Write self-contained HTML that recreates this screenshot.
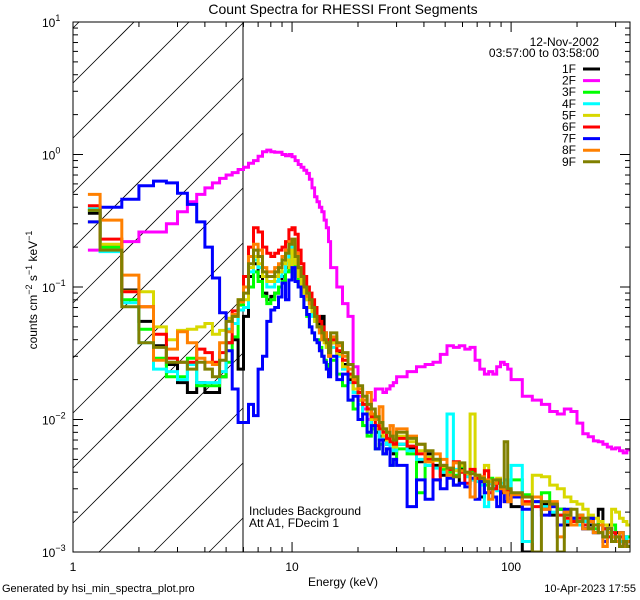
<!DOCTYPE html>
<html><head><meta charset="utf-8">
<style>
html,body{margin:0;padding:0;background:#fff;overflow:hidden;width:640px;height:600px;}
svg{display:block;font-family:"Liberation Sans",sans-serif;}
</style></head>
<body>
<svg id="chart" width="640" height="600" viewBox="0 0 640 600" xmlns="http://www.w3.org/2000/svg">
<defs><clipPath id="plotclip"><rect x="73" y="22" width="557" height="530"/></clipPath></defs>
<rect width="640" height="600" fill="#fff"/>
<g id="hatch"></g>
<line x1="243" y1="22" x2="243" y2="552" stroke="#000" stroke-width="1"/>
<g id="series" clip-path="url(#plotclip)"></g>
<rect x="73" y="22" width="557" height="530" fill="none" stroke="#000" stroke-width="1"/>
<g id="axes"></g>
<text x="343" y="14" text-anchor="middle" font-size="14">Count Spectra for RHESSI Front Segments</text>
<text x="343" y="586" text-anchor="middle" font-size="12">Energy (keV)</text>
<text transform="translate(37,290) rotate(-90)" text-anchor="middle" font-size="12">counts cm<tspan dy="-5" font-size="9">−2</tspan><tspan dy="5"> s</tspan><tspan dy="-5" font-size="9">−1</tspan><tspan dy="5"> keV</tspan><tspan dy="-5" font-size="9">−1</tspan></text>
<text x="249" y="515" font-size="12">Includes Background</text>
<text x="249" y="527" font-size="12">Att A1, FDecim 1</text>
<text x="2" y="592" font-size="11">Generated by hsi_min_spectra_plot.pro</text>
<text x="636" y="592" text-anchor="end" font-size="11">10-Apr-2023 17:55</text>
<text x="599" y="46" text-anchor="end" font-size="12">12-Nov-2002</text>
<text x="599" y="57" text-anchor="end" font-size="12">03:57:00 to 03:58:00</text>
<g id="legend"></g>
</svg>
<script>
const edges = [1.17,1.33,1.67,2,2.33,2.67,3,3.33,3.67,4,4.33,4.67,5,5.33,5.67,6,
6.33,6.67,7,7.33,7.67,8,8.33,8.67,9,9.33,9.67,10,10.33,10.67,11,11.33,11.67,12,12.33,12.67,13,13.33,13.67,14,14.33,14.67,15,
16,17,18,19,20,21,22,23,24,25,26,27,28,29,30,
33.5,37,40.5,44,47.5,51,54.5,58,61.5,65,68.5,72,75.5,79,82.5,86,89.5,93,96.5,100,
112.5,125,137.5,150,162.5,175,187.5,200,212.5,225,237.5,250,262.5,275,287.5,300,312.5,325,337.5,350];

const seriesNames = ["1F","2F","3F","4F","5F","6F","7F","8F","9F"];
const seriesColors = ["#000000","#ff00ff","#00ff00","#00ffff","#d8d800","#ff0000","#0000ff","#ff8000","#808000"];

const s1F = [0.36,0.2,0.095,0.055,0.036,0.026,0.019,0.016,0.019,0.016,0.016,0.021,0.038,0.04,0.024,
0.06,0.12,0.15,0.12,0.09,0.08,0.085,0.09,0.10,0.12,0.14,0.18,0.20,0.15,0.12,0.11,0.10,0.09,0.08,0.07,0.06,0.055,0.05,0.06,0.045,0.04,0.035,
0.038,0.032,0.026,0.02,0.017,0.014,0.012,0.011,0.009,0.008,0.0075,0.007,0.0065,0.006,0.0055,
0.0065,0.006,0.0048,0.0055,0.0045,0.0038,0.0041,0.0032,0.0042,0.0039,0.0035,0.0036,0.0026,0.0034,0.0033,0.003,0.0034,0.0028,0.003,0.0027,
0.0022,0.001,0.0026,0.0023,0.0019,0.0021,0.0016,0.0018,0.0019,0.0015,0.0016,0.0014,0.0021,0.0013,0.0016,0.0012,0.0014,0.0011,0.0013,0.0012];
const s2F = [0.19,0.20,0.22,0.26,0.26,0.30,0.37,0.44,0.5,0.56,0.61,0.66,0.70,0.73,0.77,
0.8,0.86,0.9,0.97,1.05,1.08,1.05,1.04,1.04,1.0,0.98,1.0,0.96,0.9,0.84,0.8,0.76,0.72,0.65,0.56,0.48,0.44,0.40,0.37,0.32,0.28,0.22,
0.14,0.1,0.075,0.06,0.025,0.015,0.012,0.01,0.014,0.017,0.017,0.016,0.017,0.018,0.019,
0.021,0.023,0.025,0.026,0.027,0.031,0.036,0.035,0.036,0.034,0.035,0.028,0.024,0.022,0.023,0.022,0.025,0.027,0.026,0.024,
0.02,0.015,0.014,0.013,0.0115,0.011,0.012,0.0115,0.0094,0.0078,0.0074,0.0069,0.0068,0.0065,0.0062,0.006,0.0061,0.0058,0.0056,0.0059];
const s3F = [0.38,0.2,0.08,0.048,0.029,0.021,0.021,0.029,0.018,0.018,0.018,0.021,0.027,0.042,0.073,
0.07,0.10,0.13,0.11,0.085,0.075,0.08,0.09,0.10,0.11,0.13,0.16,0.19,0.12,0.10,0.085,0.07,0.06,0.05,0.045,0.04,0.04,0.035,0.03,0.028,0.026,0.022,
0.028,0.022,0.018,0.014,0.012,0.01,0.009,0.0075,0.0085,0.006,0.0065,0.0055,0.006,0.0045,0.005,
0.006,0.0055,0.0028,0.0045,0.005,0.0042,0.004,0.0038,0.0044,0.0039,0.0041,0.0036,0.0034,0.0032,0.0036,0.0032,0.0033,0.0029,0.0031,0.0028,
0.0035,0.0027,0.0024,0.0028,0.0022,0.0021,0.002,0.0017,0.0019,0.0016,0.0018,0.0015,0.0017,0.0015,0.0014,0.0016,0.0013,0.0014,0.0012,0.0013];
const s4F = [0.39,0.185,0.076,0.038,0.024,0.023,0.02,0.026,0.019,0.019,0.019,0.023,0.048,0.053,0.067,
0.07,0.13,0.16,0.14,0.12,0.10,0.10,0.11,0.12,0.13,0.15,0.19,0.21,0.15,0.12,0.10,0.09,0.08,0.07,0.06,0.055,0.05,0.045,0.04,0.04,0.035,0.03,
0.035,0.03,0.024,0.019,0.016,0.013,0.011,0.012,0.009,0.0085,0.007,0.0075,0.0065,0.006,0.0058,
0.0065,0.0058,0.005,0.0045,0.0043,0.004,0.011,0.0042,0.004,0.0037,0.0035,0.0034,0.0032,0.0022,0.0033,0.0031,0.0029,0.0033,0.0035,0.0028,
0.0045,0.0012,0.0024,0.0022,0.002,0.0019,0.0017,0.0018,0.0016,0.0017,0.0015,0.0016,0.0014,0.0015,0.0013,0.0014,0.0013,0.0012,0.0013,0.0012];
const s5F = [0.31,0.21,0.093,0.092,0.05,0.04,0.047,0.048,0.05,0.053,0.044,0.047,0.058,0.06,0.08,
0.08,0.14,0.17,0.15,0.12,0.11,0.11,0.12,0.13,0.15,0.16,0.14,0.19,0.15,0.12,0.10,0.09,0.08,0.07,0.065,0.055,0.05,0.045,0.04,0.038,0.035,0.03,
0.038,0.031,0.025,0.021,0.017,0.014,0.013,0.011,0.01,0.0085,0.009,0.0075,0.007,0.0068,0.0062,
0.0075,0.0068,0.0058,0.0052,0.0049,0.0044,0.0043,0.0041,0.0045,0.0039,0.011,0.0037,0.0035,0.0045,0.0034,0.0033,0.0036,0.0031,0.0029,0.0028,
0.0027,0.0026,0.0038,0.0037,0.0032,0.003,0.0026,0.0024,0.0023,0.0021,0.0019,0.0018,0.0017,0.0016,0.0015,0.0021,0.002,0.0018,0.0017,0.0016];
const s6F = [0.41,0.23,0.092,0.071,0.044,0.029,0.027,0.027,0.034,0.032,0.027,0.032,0.038,0.066,0.077,
0.12,0.20,0.28,0.26,0.20,0.18,0.17,0.18,0.19,0.20,0.22,0.27,0.28,0.25,0.19,0.15,0.12,0.10,0.09,0.08,0.07,0.06,0.055,0.05,0.045,0.04,0.035,
0.04,0.033,0.028,0.022,0.019,0.016,0.013,0.012,0.0105,0.009,0.0085,0.008,0.0072,0.0068,0.0065,
0.0072,0.0063,0.0055,0.005,0.0035,0.0045,0.0042,0.0048,0.004,0.0033,0.0042,0.0036,0.0034,0.0041,0.0028,0.003,0.0033,0.0029,0.0024,0.0029,
0.0026,0.0024,0.0022,0.0021,0.0023,0.0019,0.0018,0.0017,0.0018,0.0016,0.0015,0.0016,0.0014,0.0015,0.0013,0.0014,0.0012,0.0013,0.0011,0.0012];
const s7F = [0.31,0.40,0.46,0.58,0.63,0.61,0.51,0.42,0.31,0.2,0.117,0.064,0.033,0.017,0.0095,
0.0095,0.013,0.0107,0.024,0.030,0.055,0.067,0.07,0.084,0.107,0.08,0.113,0.14,0.11,0.1,0.085,0.07,0.062,0.05,0.045,0.04,0.038,0.033,0.03,0.027,0.024,0.021,
0.03,0.02,0.022,0.014,0.015,0.01,0.011,0.008,0.009,0.006,0.007,0.0055,0.006,0.0045,0.005,
0.0045,0.0022,0.0035,0.0025,0.0035,0.003,0.0036,0.0032,0.0033,0.0031,0.0036,0.0025,0.0034,0.0028,0.003,0.0026,0.0022,0.0031,0.0024,0.0027,
0.0026,0.0021,0.0024,0.0019,0.0022,0.0016,0.0021,0.0018,0.0017,0.0015,0.0018,0.0014,0.0016,0.0012,0.0015,0.0013,0.0012,0.0014,0.0011,0.0012];
const s8F = [0.5,0.32,0.123,0.071,0.028,0.034,0.046,0.038,0.029,0.027,0.026,0.038,0.046,0.062,0.077,
0.10,0.17,0.21,0.19,0.14,0.13,0.13,0.14,0.15,0.17,0.19,0.22,0.22,0.18,0.14,0.12,0.10,0.085,0.075,0.07,0.06,0.05,0.045,0.04,0.045,0.038,0.03,
0.042,0.036,0.03,0.024,0.02,0.017,0.014,0.016,0.011,0.01,0.0125,0.0085,0.008,0.009,0.007,
0.0085,0.0075,0.0065,0.0048,0.0055,0.005,0.0038,0.0047,0.0041,0.004,0.0026,0.0038,0.0037,0.0035,0.0025,0.0033,0.0035,0.003,0.0028,0.0024,
0.0027,0.0023,0.0026,0.0021,0.0024,0.0013,0.002,0.0016,0.0019,0.0015,0.0017,0.0014,0.0016,0.0011,0.0014,0.0013,0.0012,0.0014,0.0011,0.0012];
const s9F = [0.38,0.19,0.071,0.038,0.035,0.027,0.027,0.024,0.027,0.024,0.021,0.028,0.055,0.06,0.08,
0.09,0.15,0.19,0.17,0.13,0.12,0.12,0.13,0.14,0.16,0.18,0.21,0.23,0.17,0.14,0.12,0.10,0.09,0.08,0.07,0.06,0.05,0.05,0.045,0.04,0.038,0.032,
0.045,0.038,0.032,0.026,0.021,0.018,0.015,0.013,0.012,0.0105,0.0095,0.0085,0.008,0.0075,0.007,
0.008,0.0072,0.0065,0.0058,0.005,0.0045,0.0043,0.0037,0.0047,0.004,0.0039,0.0038,0.0036,0.0034,0.003,0.0035,0.0035,0.0031,0.0068,0.003,
0.0028,0.0026,0.001,0.0024,0.0023,0.001,0.0019,0.0021,0.0017,0.0018,0.0015,0.0016,0.0014,0.0013,0.0015,0.0012,0.0013,0.0011,0.0012,0.0011];

const seriesValues = [s1F,s2F,s3F,s4F,s5F,s6F,s7F,s8F,s9F];
const xTickLabels = ["1","10","100"];
const yTickExponents = ["1","0","−1","−2","−3"];

const NS = "http://www.w3.org/2000/svg";
const X0 = 73, X1 = 630, Y0 = 22, Y1 = 552;
const XMIN = 1, XMAX = 349;
const YMIN = 1e-3, YMAX = 10;
function xScale(e){ return X0 + (Math.log10(e)-Math.log10(XMIN))/(Math.log10(XMAX)-Math.log10(XMIN))*(X1-X0); }
function yScale(v){ v = Math.max(v, 1e-4); return Y1 - (Math.log10(v)-Math.log10(YMIN))/(Math.log10(YMAX)-Math.log10(YMIN))*(Y1-Y0); }
function mk(tag, attrs){ const el = document.createElementNS(NS, tag); for (const k in attrs) el.setAttribute(k, attrs[k]); return el; }

// hatch lines clipped manually to the 1-6 keV band
const hatch = document.getElementById('hatch');
for (let k = -12; k < 12; k++) {
  const yL = 83 + 55*k;           // y at x=73; line y = yL - (x-73)
  let xa = 73, xb = 243;
  xa = Math.max(xa, 73 + (yL - 552));
  xb = Math.min(xb, 73 + (yL - 22));
  if (xb <= xa) continue;
  const ln = mk('line', {x1: xa, y1: yL - (xa-73), x2: xb, y2: yL - (xb-73), stroke: '#000', 'stroke-width': 0.8});
  
  
  hatch.appendChild(ln);
}

const sg = document.getElementById('series');
seriesValues.forEach((vals, si) => {
  const n = Math.min(vals.length, edges.length - 1);
  let d = '';
  for (let i = 0; i < n; i++) {
    const xa = xScale(edges[i]).toFixed(1), xb = xScale(edges[i+1]).toFixed(1), y = Math.min(yScale(vals[i]), 556).toFixed(1);
    d += (i === 0 ? 'M' : 'L') + xa + ',' + y + 'L' + xb + ',' + y;
  }
  const p = mk('path', {d: d, fill: 'none', stroke: seriesColors[si], 'stroke-width': 3, 'stroke-linejoin': 'miter', 'stroke-linecap': 'butt'});
  
  
  sg.appendChild(p);
});

const ax = document.getElementById('axes');
const tickAttr = {stroke: '#000', 'stroke-width': 1};
for (let dec = 0; dec <= 2; dec++) {
  for (let m = 1; m <= 9; m++) {
    const e = m * Math.pow(10, dec);
    if (e > XMAX) continue;
    const x = xScale(e);
    const len = (m === 1) ? 10 : 5;
    const t1 = mk('line', Object.assign({x1: x, y1: Y1, x2: x, y2: Y1 - len}, tickAttr));
    
    
    ax.appendChild(t1);
    const t2 = mk('line', Object.assign({x1: x, y1: Y0, x2: x, y2: Y0 + len}, tickAttr));
    
    
    ax.appendChild(t2);
  }
}
xTickLabels.forEach((lab, i) => {
  const t = mk('text', {x: xScale(Math.pow(10, i)), y: 571, 'text-anchor': 'middle', 'font-size': 12});
  t.textContent = lab;
  
  
  ax.appendChild(t);
});
for (let dec = -3; dec <= 0; dec++) {
  for (let m = 1; m <= 9; m++) {
    const v = m * Math.pow(10, dec);
    const y = yScale(v);
    const len = (m === 1) ? 10 : 5;
    const t1 = mk('line', Object.assign({x1: X0, y1: y, x2: X0 + len, y2: y}, tickAttr));
    
    
    ax.appendChild(t1);
    const t2 = mk('line', Object.assign({x1: X1, y1: y, x2: X1 - len, y2: y}, tickAttr));
    
    
    ax.appendChild(t2);
  }
}
yTickExponents.forEach((ex, i) => {
  const y = yScale(Math.pow(10, 1 - i));
  const t = mk('text', {x: 42, y: y + 5, 'font-size': 12});
  t.textContent = '10';
  const sp = mk('tspan', {dy: -6, 'font-size': 9});
  sp.textContent = ex;
  t.appendChild(sp);
  
  
  ax.appendChild(t);
});

const lg = document.getElementById('legend');
seriesNames.forEach((nm, i) => {
  const y = 69 + i * 11.6;
  const t = mk('text', {x: 576, y: y + 4, 'text-anchor': 'end', 'font-size': 12});
  t.textContent = nm;
  
  
  lg.appendChild(t);
  const l = mk('line', {x1: 583, y1: y, x2: 600, y2: y, stroke: seriesColors[i], 'stroke-width': 3});
  
  
  lg.appendChild(l);
});
</script>
</body></html>
